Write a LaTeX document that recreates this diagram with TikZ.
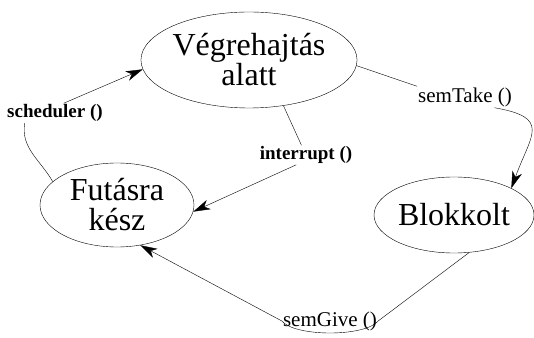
\documentclass[tikz,border=0pt]{standalone}
\usepackage{fontspec}
\setmainfont{Liberation Serif}
\newfontfamily\statefont{Liberation Serif}
\usetikzlibrary{shapes.geometric, arrows.meta}

\begin{document}
\begin{tikzpicture}[x=1pt, y=1pt, >={Stealth[length=17pt, width=10pt, inset=5pt]},
    state/.style={draw, ellipse, inner sep=0pt, font=\statefont\fontsize{32}{30}\selectfont, align=center},
    lbl/.style={inner sep=1pt, font=\fontsize{21}{23}\selectfont},
    boldlbl/.style={inner sep=1pt, font=\fontsize{19}{21}\selectfont\bfseries}]
        \useasboundingbox (0,0) rectangle (534,337);

        % Állapotok
        \node[state, minimum width=202, minimum height=96] (exec) at (249,277) {Végrehajtás\\alatt};
        \node[state, minimum width=154, minimum height=84] (ready) at (117,132) {Futásra\\kész};
        \node[state, minimum width=160, minimum height=76] (blocked) at (454,122) {Blokkolt};

        % Átmenetek feliratai
        \node[boldlbl] (sched) at (55,224) {scheduler ()};
        \node[boldlbl] (intr) at (306,182) {interrupt ()};
        \node[lbl] (take) at (465,240) {semTake ()};
        \node[lbl] (give) at (330,16) {semGive ()};

        % Futásra kész -> Végrehajtás alatt
        \draw (ready.160) to[out=120, in=-100] (sched.-162);
        \draw[->] (sched.48) -- (exec.185);

        % Végrehajtás alatt -> Futásra kész
        \draw (exec.-53) -- (intr.115);
        \draw[->] (intr.-135) -- (ready.355);

        % Végrehajtás alatt -> Blokkolt
        \draw (exec.-3) -- (take.north west);
        \draw[->] (take.-20) to[out=-10, in=70, looseness=1.8] (blocked.25);

        % Blokkolt -> Futásra kész
        \draw (blocked.-68) -- (give.east) .. controls (365,0) and (295,0) .. (give.west);
        \draw[->] (give.west) -- (ready.-60);
    \end{tikzpicture}
\end{document}
